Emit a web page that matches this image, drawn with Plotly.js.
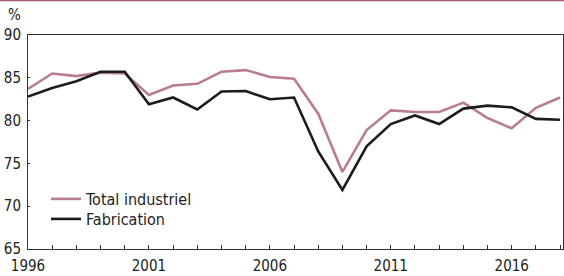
<!DOCTYPE html>
<html>
<head>
<meta charset="utf-8">
<script src="https://cdn.plot.ly/plotly-3.0.1.min.js"></script>
<style>
html,body{margin:0;padding:0;background:#fff;}
#chart{width:564px;height:276px;}
</style>
</head>
<body>
<div id="chart"></div>
<script>
const years = [1996,1997,1998,1999,2000,2001,2002,2003,2004,2005,2006,2007,2008,2009,2010,2011,2012,2013,2014,2015,2016,2017,2018];
const totalIndustriel = [83.7,85.5,85.2,85.6,85.5,83.0,84.1,84.3,85.7,85.9,85.1,84.9,80.8,74.0,78.9,81.2,81.0,81.0,82.1,80.3,79.1,81.5,82.7];
const fabrication = [82.8,83.8,84.6,85.7,85.7,81.9,82.7,81.3,83.4,83.45,82.5,82.7,76.4,71.9,77.0,79.6,80.6,79.6,81.4,81.75,81.55,80.2,80.1];
const seriesNames = ["Total industriel","Fabrication"];
const xTickLabels = ["1996","2001","2006","2011","2016"];
const yTickLabels = ["65","70","75","80","85","90"];

const FONT = '"DejaVu Sans Condensed","Liberation Sans Narrow",sans-serif';
const W = 564, H = 276, ML = 28, MR = 1, MT = 35, MB = 27;
const pw = W - ML - MR, ph = H - MT - MB;

const traces = [
  {x: years, y: totalIndustriel, name: seriesNames[0], type: 'scatter', mode: 'lines',
   line: {color: '#b97d8d', width: 2.6}, legend: 'legend'},
  {x: years, y: fabrication, name: seriesNames[1], type: 'scatter', mode: 'lines',
   line: {color: '#1c1c1c', width: 2.6}, legend: 'legend2'}
];

function legendAt(py) {
  // py: pixel y of the item centre
  return {x: (46 - ML)/pw, y: (H - MB - (py - 17))/ph, xanchor: 'left', yanchor: 'top',
          bgcolor: 'rgba(0,0,0,0)', font: {family: FONT, size: 16, color: '#222'}, itemwidth: 30};
}

const layout = {
  width: W, height: H,
  margin: {l: ML, r: MR, t: MT, b: MB, pad: 0},
  paper_bgcolor: '#fff', plot_bgcolor: '#fff',
  font: {family: FONT, size: 15, color: '#222'},
  showlegend: true,
  legend: legendAt(199),
  legend2: legendAt(219),
  xaxis: {range: [1996, 2018.12], tickvals: xTickLabels.map(Number), ticktext: xTickLabels,
          ticks: 'inside', ticklen: 4, tickcolor: '#333', showgrid: false, zeroline: false,
          showline: true, linecolor: '#333', linewidth: 1, mirror: true, ticklabelstandoff: 3,
          minor: {dtick: 1, tick0: 1996, ticks: 'inside', ticklen: 4, tickcolor: '#333', showgrid: false},
          tickfont: {family: FONT, size: 15, color: '#222'}, fixedrange: true},
  yaxis: {range: [65, 90], tickvals: yTickLabels.map(Number), ticktext: yTickLabels,
          ticks: 'inside', ticklen: 2, tickcolor: '#333', showgrid: false, zeroline: false,
          showline: true, linecolor: '#333', linewidth: 1, mirror: true, ticklabelstandoff: 3,
          tickfont: {family: FONT, size: 15, color: '#222'}, fixedrange: true},
  shapes: [
    {type: 'line', xref: 'paper', yref: 'paper', x0: -ML/pw, x1: 1 + MR/pw,
     y0: 1 + (MT - 0.5)/ph, y1: 1 + (MT - 0.5)/ph, line: {color: '#a35a73', width: 1.5}}
  ],
  annotations: [
    {text: '%', xref: 'paper', yref: 'paper', x: (14 - ML)/pw, y: 1 + (MT - 15)/ph,
     xanchor: 'center', yanchor: 'middle', showarrow: false,
     font: {family: FONT, size: 15, color: '#222'}}
  ]
};

Plotly.newPlot('chart', traces, layout, {displayModeBar: false, staticPlot: true});
</script>
</body>
</html>
